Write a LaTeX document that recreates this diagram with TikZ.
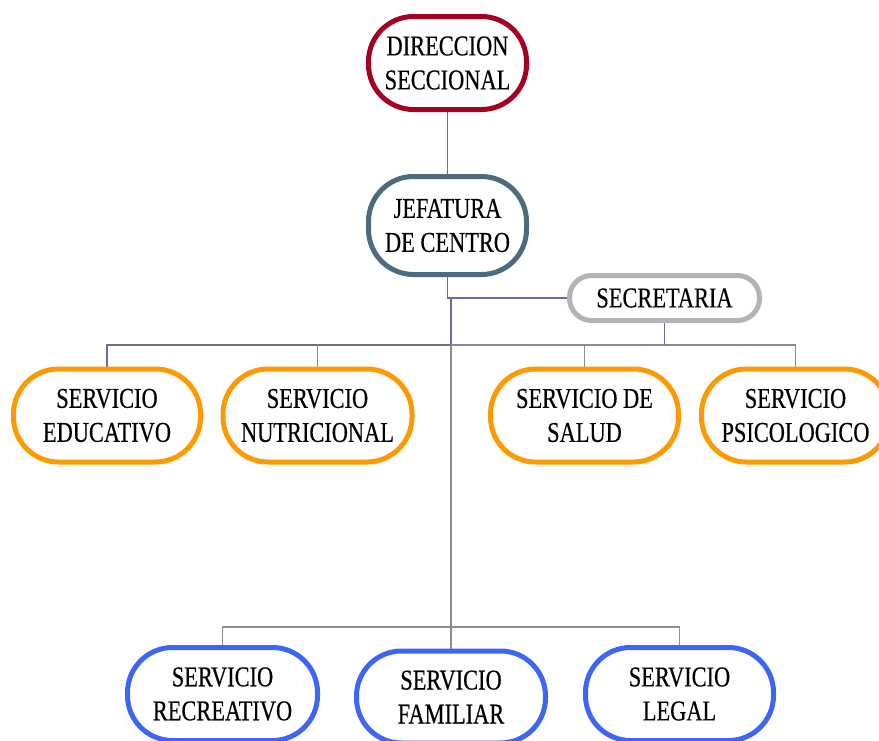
\documentclass[tikz,border=0pt]{standalone}
\usepackage{fontspec}
\usetikzlibrary{calc}
\setmainfont[FakeStretch=0.78,FakeBold=0.4]{Liberation Serif}
\definecolor{cred}{HTML}{A50021}
\definecolor{cslate}{HTML}{4D6B80}
\definecolor{cgray}{HTML}{B3B3B3}
\definecolor{corange}{HTML}{FF9900}
\definecolor{cblue}{HTML}{3D66F5}
\definecolor{cline}{HTML}{6B6B9E}
\definecolor{cgline}{HTML}{8C8C8C}
\newcommand{\rrim}[3]{%
\draw[rim,#2] ($(#1.north west)+(#3,0)$) -- ($(#1.north east)+(-#3,0)$)
 .. controls ($(#1.north east)+(-#3*0.4477,0)$) and ($(#1.north east)+(0,#3*0.4477)$) .. ($(#1.north east)+(0,#3)$)
 -- ($(#1.south east)+(0,-#3)$)
 .. controls ($(#1.south east)+(0,-#3*0.4477)$) and ($(#1.south east)+(-#3*0.4477,0)$) .. ($(#1.south east)+(-#3,0)$)
 -- ($(#1.south west)+(#3,0)$)
 .. controls ($(#1.south west)+(#3*0.4477,0)$) and ($(#1.south west)+(0,-#3*0.4477)$) .. ($(#1.south west)+(0,-#3)$)
 -- ($(#1.north west)+(0,#3)$)
 .. controls ($(#1.north west)+(0,#3*0.4477)$) and ($(#1.north west)+(#3*0.4477,0)$) .. ($(#1.north west)+(#3,0)$)
 -- cycle;}
\begin{document}
\begin{tikzpicture}[x=1pt,y=-1pt,
  box/.style={outer sep=0pt, align=center, inner sep=0pt,
    font=\fontsize{28.7}{34}\selectfont},
  rim/.style={line width=5pt, line join=round},
  conn/.style={draw=cline, line width=1.4pt},
  gconn/.style={draw=cgline, line width=1.4pt}]
\useasboundingbox (0,0) rectangle (879,740);
\fill[white] (0,0) rectangle (879,740);
% top
\node[box, minimum width=158pt, minimum height=93pt] (dir) at (447.5,63) {DIRECCION\\SECCIONAL};
\node[box, minimum width=158pt, minimum height=98pt] (jef) at (447.5,225.5) {JEFATURA\\DE CENTRO};
\node[box, minimum width=190pt, minimum height=45pt] (sec) at (664.5,298) {SECRETARIA};
% orange row
\node[box, minimum width=187pt, minimum height=93pt] (edu) at (107,415.5) {SERVICIO\\EDUCATIVO};
\node[box, minimum width=189pt, minimum height=93pt] (nut) at (317.5,415.5) {SERVICIO\\NUTRICIONAL};
\node[box, minimum width=188pt, minimum height=93pt] (sal) at (584.5,415.5) {SERVICIO DE\\SALUD};
\node[box, minimum width=188pt, minimum height=93pt] (psi) at (795.5,415.5) {SERVICIO\\PSICOLOGICO};
% blue row
\node[box, minimum width=190pt, minimum height=93pt] (rec) at (222.5,694) {SERVICIO\\RECREATIVO};
\node[box, minimum width=189pt, minimum height=92pt] (fam) at (451,697) {SERVICIO\\FAMILIAR};
\node[box, minimum width=188pt, minimum height=93pt] (leg) at (679.5,694) {SERVICIO\\LEGAL};
% junction coordinates
\coordinate (tj) at (451,298);
\coordinate (bus) at (451,345);
\coordinate (bus2) at (451,627);
% connectors
\draw[conn] (dir.south) -- (jef.north);
\draw[conn] (jef.south) |- (sec.west);
\draw[conn] (tj) -- (bus);
\draw[conn] (edu.north) |- (bus);
\draw[gconn] (nut.north) -- (nut.north |- bus);
\draw[gconn] (bus) -| (psi.north);
\draw[gconn] (sal.north) -- (sal.north |- bus);
\draw[conn] (sec.south) -- (sec.south |- bus);
\draw[gconn] (bus) -- (bus2) -- (fam.north);
\draw[gconn] (rec.north) |- (bus2) -| (leg.north);
% borders
\rrim{dir}{cred}{45}
\rrim{jef}{cslate}{45}
\rrim{sec}{cgray}{22}
\foreach \n in {edu,nut,sal,psi} {\rrim{\n}{corange}{45}}
\foreach \n in {rec,fam,leg} {\rrim{\n}{cblue}{45}}
\end{tikzpicture}
\end{document}
